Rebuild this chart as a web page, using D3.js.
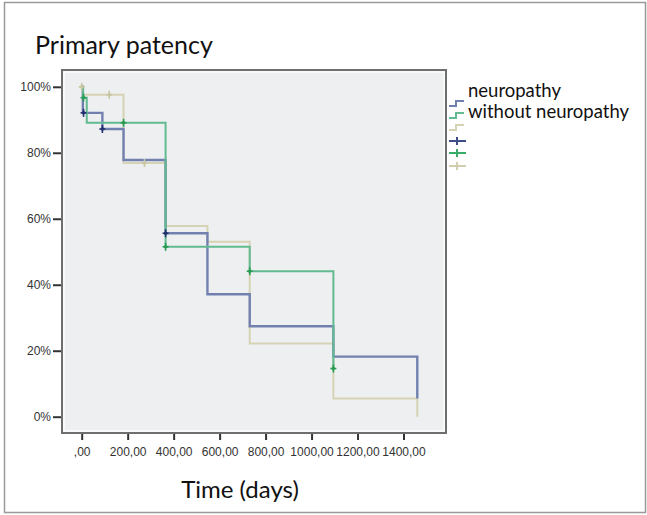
<!DOCTYPE html>
<html>
<head>
<meta charset="utf-8">
<script src="https://cdn.jsdelivr.net/npm/d3@7/dist/d3.min.js"></script>
<style>
  html, body { margin: 0; padding: 0; background: #ffffff; }
  svg { display: block; font-family: Lato, "Open Sans", sans-serif; }
</style>
</head>
<body>
<svg id="chart" width="647" height="515"></svg>
<script>
// Kaplan–Meier step data (days, cumulative patency %)
const neuroTimes = [0, 5, 90, 182, 365, 547, 731, 1095, 1460];
const neuroSurv  = [100, 92.1, 87.2, 77.8, 55.6, 37.1, 27.4, 18.2, 5.5];
const neuroCensT = [8, 90, 365];
const neuroCensS = [92.1, 87.2, 55.6];

const withoutTimes = [0, 6, 22, 365, 731, 1095];
const withoutSurv  = [100, 96.7, 89.1, 51.5, 44.1, 14.6];
const withoutCensT = [8, 182, 365, 731, 1095];
const withoutCensS = [96.7, 89.1, 51.5, 44.1, 14.6];

const thirdTimes = [0, 5, 182, 365, 547, 731, 1095, 1460];
const thirdSurv  = [100, 97.6, 76.9, 57.8, 53.0, 22.2, 5.5, 0];
const thirdCensT = [0, 120, 273];
const thirdCensS = [100, 97.6, 76.9];

const xTicks = [0, 200, 400, 600, 800, 1000, 1200, 1400];
const xTickLabels = [",00", "200,00", "400,00", "600,00", "800,00", "1000,00", "1200,00", "1400,00"];
const yTicks = [0, 20, 40, 60, 80, 100];
const yTickLabels = ["0%", "20%", "40%", "60%", "80%", "100%"];

const legendLabels = ["neuropathy", "without neuropathy"];

const svg = d3.select("#chart");

// outer frame
svg.append("rect")
  .attr("x", 4.5).attr("y", 2.5).attr("width", 641).attr("height", 510)
  .attr("fill", "none").attr("stroke", "#9a9a9a").attr("stroke-width", 1.5);

// panel
const panel = { left: 62, top: 70, right: 446, bottom: 433 };
svg.append("rect")
  .attr("x", panel.left).attr("y", panel.top)
  .attr("width", panel.right - panel.left).attr("height", panel.bottom - panel.top)
  .attr("fill", "#eeeff1").attr("stroke", "#6f6f6f").attr("stroke-width", 2);
svg.append("rect")
  .attr("x", panel.left + 2).attr("y", panel.top + 2)
  .attr("width", panel.right - panel.left - 4).attr("height", panel.bottom - panel.top - 4)
  .attr("fill", "none").attr("stroke", "#ffffff").attr("stroke-width", 1.2);

const x = d3.scaleLinear().domain([0, 1400]).range([81.7, 403.5]);
const y = d3.scaleLinear().domain([0, 100]).range([416.7, 86.8]);

// axes
const yAxis = d3.axisLeft(y).tickValues(yTicks)
  .tickFormat((d, i) => yTickLabels[i]).tickSize(8).tickPadding(2);
const gy = svg.append("g").attr("transform", `translate(${panel.left - 1},0)`).call(yAxis);
gy.select(".domain").remove();
gy.selectAll(".tick line").attr("stroke", "#333").attr("stroke-width", 2);
gy.selectAll(".tick text").attr("fill", "#333").attr("font-size", 12);

const xAxis = d3.axisBottom(x).tickValues(xTicks)
  .tickFormat((d, i) => xTickLabels[i]).tickSize(6).tickPadding(7);
const gx = svg.append("g").attr("transform", `translate(0,${panel.bottom + 1})`).call(xAxis);
gx.select(".domain").remove();
gx.selectAll(".tick line").attr("stroke", "#333").attr("stroke-width", 2);
gx.selectAll(".tick text").attr("fill", "#333").attr("font-size", 12);

// KM step path builder
function stepPoints(times, surv) {
  const pts = [];
  for (let i = 0; i < times.length; i++) {
    if (i > 0) pts.push([times[i], surv[i - 1]]);
    pts.push([times[i], surv[i]]);
  }
  return pts;
}
const line = d3.line().x(d => x(d[0])).y(d => y(d[1]));

const series = [
  { times: thirdTimes, surv: thirdSurv, cT: thirdCensT, cS: thirdCensS,
    color: "#d6d3b5", mark: "#c9c6a4", width: 2 },
  { times: neuroTimes, surv: neuroSurv, cT: neuroCensT, cS: neuroCensS,
    color: "#7280b0", mark: "#243170", width: 2.4 },
  { times: withoutTimes, surv: withoutSurv, cT: withoutCensT, cS: withoutCensS,
    color: "#62bb90", mark: "#2a9d55", width: 2 }
];

series.forEach(s => {
  svg.append("path")
    .attr("d", line(stepPoints(s.times, s.surv)))
    .attr("fill", "none").attr("stroke", s.color).attr("stroke-width", s.width);
});
series.forEach(s => {
  const g = svg.append("g");
  s.cT.forEach((t, i) => {
    const cx = x(t), cy = y(s.cS[i]);
    g.append("line").attr("x1", cx).attr("x2", cx).attr("y1", cy - 4).attr("y2", cy + 4)
      .attr("stroke", s.mark).attr("stroke-width", 1.6);
    g.append("line").attr("x1", cx - 3).attr("x2", cx + 3).attr("y1", cy).attr("y2", cy)
      .attr("stroke", s.mark).attr("stroke-width", 1.6);
    g.append("circle").attr("cx", cx).attr("cy", cy).attr("r", 1.8).attr("fill", s.mark);
  });
});

// title and x-axis title
svg.append("text").attr("x", 35).attr("y", 54)
  .attr("font-size", 25).attr("fill", "#111").text("Primary patency");
svg.append("text").attr("x", 240).attr("y", 498).attr("text-anchor", "middle")
  .attr("font-size", 24).attr("fill", "#111").text("Time (days)");

// legend
const lg = svg.append("g");
const stepIcon = (y0, color) => {
  lg.append("path")
    .attr("d", `M449,${y0 + 3}H456V${y0 - 2}H464`)
    .attr("fill", "none").attr("stroke", color).attr("stroke-width", 2);
};
stepIcon(103, "#7280b0");
stepIcon(115, "#62bb90");
stepIcon(127, "#d6d3b5");
const plusIcon = (y0, color) => {
  lg.append("line").attr("x1", 449).attr("x2", 466).attr("y1", y0).attr("y2", y0)
    .attr("stroke", color).attr("stroke-width", 2);
  lg.append("line").attr("x1", 457).attr("x2", 457).attr("y1", y0 - 4).attr("y2", y0 + 4)
    .attr("stroke", color).attr("stroke-width", 2);
};
plusIcon(141, "#3f4c8a");
plusIcon(153, "#3bab68");
plusIcon(166, "#d2cfae");
lg.selectAll("text.lab").data(legendLabels).join("text")
  .attr("class", "lab")
  .attr("x", 468).attr("y", (d, i) => 97 + i * 21)
  .attr("font-size", 18.5).attr("fill", "#111").text(d => d);
</script>
</body>
</html>
